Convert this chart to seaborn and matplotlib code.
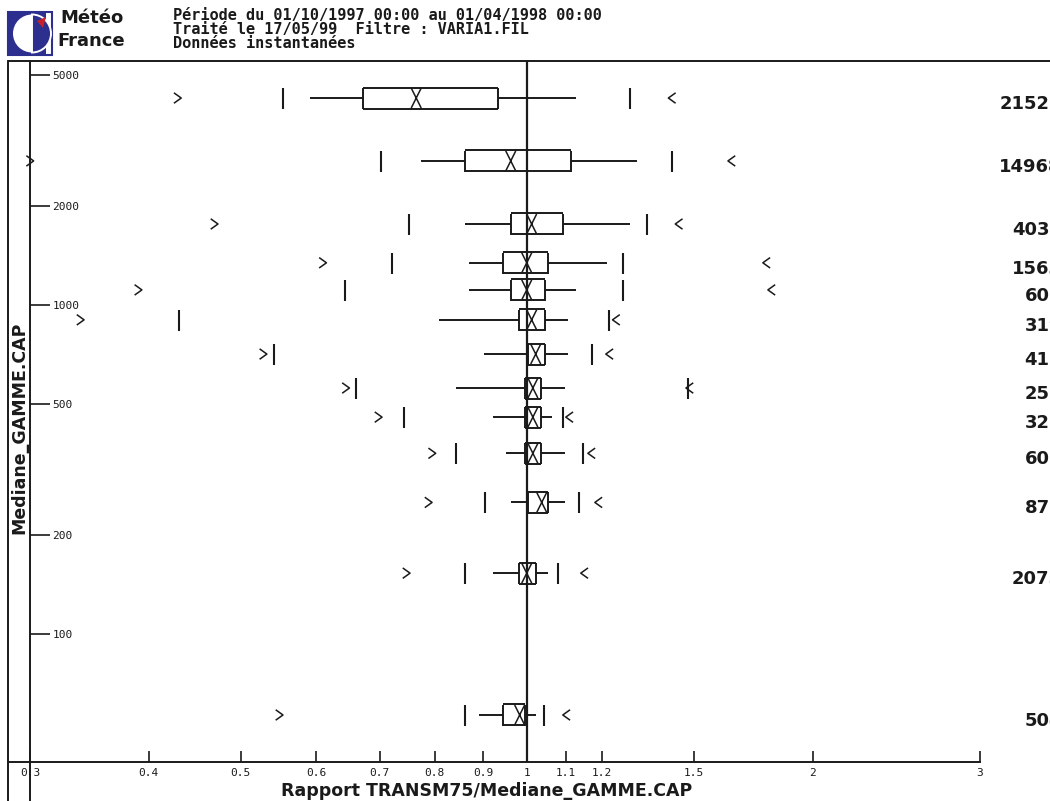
import numpy as np
import matplotlib
matplotlib.use("Agg")
import matplotlib.pyplot as plt
import seaborn as sns
import matplotlib.transforms as mtransforms
from matplotlib.path import Path
from matplotlib.lines import Line2D
from matplotlib.patches import Rectangle, Wedge, Polygon
from matplotlib.ticker import NullLocator

# ---------------- data ----------------
gamme_median = [4255, 2740, 1762, 1343, 1111, 901, 709, 559, 456, 354, 251, 153, 56.7]
counts = ["21526", "14968", "4039", "1563", "601", "319", "412", "258", "325",
          "606", "872", "2075", "504"]
extreme_lo = [0.429, 0.300, 0.469, 0.610, 0.390, 0.339, 0.528, 0.645, 0.698, 0.795, 0.788, 0.747, 0.549]
tick_lo    = [0.554, 0.702, 0.752, 0.722, 0.643, 0.431, 0.542, 0.661, 0.743, 0.843, 0.904, 0.861, 0.861]
whisk_lo   = [0.591, 0.773, 0.861, 0.870, 0.870, 0.809, 0.901, 0.843, 0.921, 0.951, 0.962, 0.921, 0.891]
q1         = [0.672, 0.861, 0.962, 0.944, 0.962, 0.981, 1.002, 0.995, 0.995, 0.995, 1.002, 0.981, 0.944]
median     = [0.765, 0.962, 1.012, 1.000, 1.000, 1.012, 1.022, 1.015, 1.015, 1.015, 1.037, 1.000, 0.983]
q3         = [0.932, 1.112, 1.093, 1.052, 1.044, 1.044, 1.044, 1.034, 1.034, 1.034, 1.052, 1.022, 0.995]
whisk_hi   = [1.126, 1.307, 1.285, 1.216, 1.126, 1.104, 1.104, 1.096, 1.062, 1.096, 1.096, 1.052, 1.022]
tick_hi    = [1.285, 1.422, 1.339, 1.264, 1.264, 1.222, 1.170, 1.478, 1.093, 1.145, 1.134, 1.080, 1.042]
extreme_hi = [1.422, 1.643, 1.446, 1.788, 1.810, 1.242, 1.222, 1.484, 1.109, 1.170, 1.190, 1.150, 1.101]

x_ticks = [0.3, 0.4, 0.5, 0.6, 0.7, 0.8, 0.9, 1, 1.1, 1.2, 1.5, 2, 3]
x_tick_labels = ["0.3", "0.4", "0.5", "0.6", "0.7", "0.8", "0.9", "1", "1.1", "1.2", "1.5", "2", "3"]
y_ticks = [100, 200, 500, 1000, 2000, 5000]
y_tick_labels = ["100", "200", "500", "1000", "2000", "5000"]

header_lines = ["Période du 01/10/1997 00:00 au 01/04/1998 00:00",
                "Traité le 17/05/99  Filtre : VARIA1.FIL",
                "Données instantanées"]
x_label = "Rapport TRANSM75/Mediane_GAMME.CAP"
y_label = "Mediane_GAMME.CAP"

# ---------------- style ----------------
sns.set_theme(style="white")
plt.rcParams['font.family'] = ['DejaVu Sans']
INK = '#1a1a1a'
BLUE = '#2d2f8f'
MONO = 'DejaVu Sans Mono'

W, H = 1050, 801
fig = plt.figure(figsize=(W / 100, H / 100), dpi=100)
fig.patch.set_facecolor('white')

def fx(p):
    return p / W

def fy(p):
    return 1 - p / H

ax = fig.add_axes([fx(30), (H - 762) / H, 950 / W, 701 / H])
ax.set_facecolor('white')
ax.set_xscale('log')
ax.set_yscale('log')

ys = np.array(gamme_median, dtype=float)
q1a, q3a = np.array(q1), np.array(q3)

# reference line at ratio 1
ax.axvline(1, color=INK, lw=1.6, zorder=1)

# whiskers
ax.hlines(ys, whisk_lo, q1, color=INK, lw=1.4, zorder=2)
ax.hlines(ys, q3, whisk_hi, color=INK, lw=1.4, zorder=2)

# box top/bottom edges (fixed pixel half-height)
half = 10.5 / 100.0
t_up = ax.transData + mtransforms.ScaledTranslation(0, half, fig.dpi_scale_trans)
t_dn = ax.transData + mtransforms.ScaledTranslation(0, -half, fig.dpi_scale_trans)
ax.hlines(ys, q1, q3, color=INK, lw=1.4, transform=t_up, zorder=3)
ax.hlines(ys, q1, q3, color=INK, lw=1.4, transform=t_dn, zorder=3)

# box sides and percentile ticks
bar_len = 21 * 0.72
sns.scatterplot(x=np.concatenate([q1a, q3a]), y=np.concatenate([ys, ys]), marker='|',
                s=bar_len ** 2, color=INK, edgecolor=INK, linewidth=1.4, ax=ax, zorder=3,
                legend=False)
sns.scatterplot(x=np.concatenate([tick_lo, tick_hi]), y=np.concatenate([ys, ys]), marker='|',
                s=bar_len ** 2, color=INK, edgecolor=INK, linewidth=1.5, ax=ax, zorder=3,
                legend=False, clip_on=False)

# median "X"
x_path = Path([(-0.5, -1), (0.5, 1), (0.5, -1), (-0.5, 1)],
              [Path.MOVETO, Path.LINETO, Path.MOVETO, Path.LINETO])
sns.scatterplot(x=median, y=ys, marker=x_path, s=(20 * 0.72) ** 2,
                facecolor='none', edgecolor=INK, linewidth=1.1, ax=ax, zorder=4, legend=False)

# chevrons
gt_path = Path([(-0.35, 0.5), (0.35, 0.0), (-0.35, -0.5)],
               [Path.MOVETO, Path.LINETO, Path.LINETO])
lt_path = Path([(0.35, 0.5), (-0.35, 0.0), (0.35, -0.5)],
               [Path.MOVETO, Path.LINETO, Path.LINETO])
sns.scatterplot(x=extreme_lo, y=ys, marker=gt_path, s=7.5 ** 2, facecolor='none',
                edgecolor=INK, linewidth=1.1, ax=ax, zorder=4, legend=False, clip_on=False)
sns.scatterplot(x=extreme_hi, y=ys, marker=lt_path, s=7.5 ** 2, facecolor='none',
                edgecolor=INK, linewidth=1.1, ax=ax, zorder=4, legend=False, clip_on=False)

ax.set_xlim(0.3, 3)
ax.set_ylim(40.8, 5514)

# axes ticks
ax.set_xticks(x_ticks)
ax.set_xticklabels(x_tick_labels)
ax.xaxis.set_minor_locator(NullLocator())
ax.tick_params(axis='x', which='major', direction='in', length=8, width=1.2,
               pad=4, labelsize=8, colors=INK, bottom=True)
for lbl in ax.get_xticklabels():
    lbl.set_family(MONO)

ax.set_yticks(y_ticks)
ax.set_yticklabels(y_tick_labels)
ax.yaxis.set_minor_locator(NullLocator())
ax.tick_params(axis='y', which='major', direction='in', length=14.5, width=1.2,
               pad=-16, labelsize=8, colors=INK, left=True)
for lbl in ax.get_yticklabels():
    lbl.set_family(MONO)
    lbl.set_horizontalalignment('left')

for side in ['top', 'right']:
    ax.spines[side].set_visible(False)
for side in ['left', 'bottom']:
    ax.spines[side].set_color(INK)
    ax.spines[side].set_linewidth(1.4)
ax.set_xlabel('')
ax.set_ylabel('')

# count labels on the right (clipped by the figure edge as in the reference)
lab_tr = mtransforms.blended_transform_factory(fig.transFigure, ax.transData) + \
    mtransforms.ScaledTranslation(0, -6 / 100, fig.dpi_scale_trans)
for yv, c in zip(ys, counts):
    ax.text(fx(1062), yv, c, transform=lab_tr, ha='right', va='center',
            fontsize=13, fontweight='bold', color=INK, clip_on=False)

# frame lines
def fline(x0, y0, x1, y1, lw=1.4):
    fig.add_artist(Line2D([fx(x0), fx(x1)], [fy(y0), fy(y1)], color=INK, lw=lw,
                          transform=fig.transFigure))

fline(8, 61, 1050, 61)
fline(8, 61, 8, 801)
fline(30, 762, 30, 801)
fline(8, 762, 30, 762)

# axis titles
fig.text(fx(487), fy(791), x_label, ha='center', va='center', fontsize=12.5,
         fontweight='bold', color=INK)
fig.text(fx(19), fy(428), y_label, ha='center', va='center', rotation=90,
         fontsize=12.5, fontweight='bold', color=INK)

# header
for i, line in enumerate(header_lines):
    fig.text(fx(173), fy(15.5 + 14.2 * i), line, ha='left', va='center', fontsize=11,
             fontweight='bold', family=MONO, color=INK)
fig.text(fx(60), fy(18), "Météo", ha='left', va='center', fontsize=13,
         fontweight='bold', color=INK)
fig.text(fx(57), fy(41), "France", ha='left', va='center', fontsize=13,
         fontweight='bold', color=INK)

# logo (pixel coordinates, y downward)
pix = mtransforms.Affine2D().scale(1, -1).translate(0, H).scale(0.01) + fig.dpi_scale_trans
fig.add_artist(Rectangle((8, 12), 44, 43, facecolor='white', edgecolor=BLUE, lw=1.5, transform=pix))
fig.add_artist(Rectangle((8, 12), 38, 43, facecolor=BLUE, edgecolor=BLUE, lw=0, transform=pix))
fig.add_artist(Wedge((32, 33.5), 19, 90, 270, facecolor='white', edgecolor='none', transform=pix))
fig.add_artist(Wedge((32, 33.5), 19, -90, 90, facecolor=BLUE, edgecolor='white', lw=1.4, transform=pix))
fig.add_artist(Polygon([(37, 21), (46, 17), (43, 28)], closed=True, facecolor='#c8202a',
                       edgecolor='none', transform=pix))

fig.savefig('out.png', dpi=100, facecolor='white')
